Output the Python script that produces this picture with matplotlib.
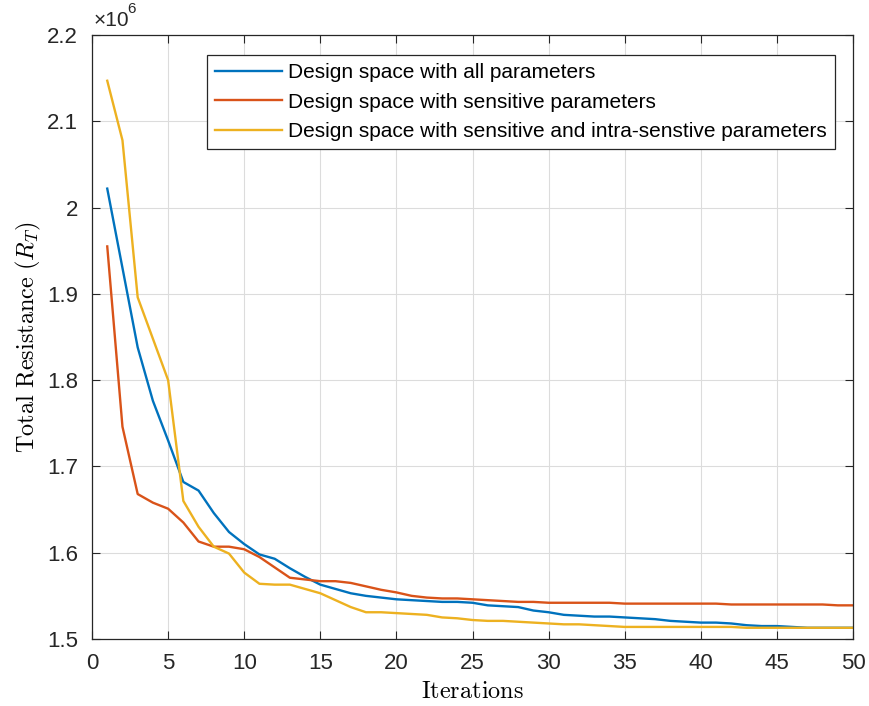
import matplotlib

matplotlib.use("Agg")
import matplotlib.pyplot as plt
import numpy as np

# Values, in units of 1e6
iterations = np.arange(1, 51)
all_params = [
    2.022, 1.930, 1.838, 1.776, 1.730, 1.682, 1.672, 1.646, 1.624, 1.610,
    1.598, 1.593, 1.582, 1.572, 1.563, 1.558, 1.553, 1.550, 1.548, 1.546,
    1.545, 1.544, 1.543, 1.543, 1.542, 1.539, 1.538, 1.537, 1.533, 1.531,
    1.528, 1.527, 1.526, 1.526, 1.525, 1.524, 1.523, 1.521, 1.520, 1.519,
    1.519, 1.518, 1.516, 1.515, 1.515, 1.514, 1.513, 1.513, 1.513, 1.513,
]
sensitive = [
    1.955, 1.746, 1.668, 1.658, 1.651, 1.635, 1.613, 1.607, 1.607, 1.604,
    1.595, 1.583, 1.571, 1.569, 1.567, 1.567, 1.565, 1.561, 1.557, 1.554,
    1.550, 1.548, 1.547, 1.547, 1.546, 1.545, 1.544, 1.543, 1.543, 1.542,
    1.542, 1.542, 1.542, 1.542, 1.541, 1.541, 1.541, 1.541, 1.541, 1.541,
    1.541, 1.540, 1.540, 1.540, 1.540, 1.540, 1.540, 1.540, 1.539, 1.539,
]
intra = [
    2.147, 2.078, 1.896, 1.848, 1.800, 1.660, 1.630, 1.607, 1.599, 1.577,
    1.564, 1.563, 1.563, 1.558, 1.553, 1.545, 1.537, 1.531, 1.531, 1.530,
    1.529, 1.528, 1.525, 1.524, 1.522, 1.521, 1.521, 1.520, 1.519, 1.518,
    1.517, 1.517, 1.516, 1.515, 1.514, 1.514, 1.514, 1.514, 1.514, 1.514,
    1.514, 1.514, 1.513, 1.513, 1.513, 1.513, 1.513, 1.513, 1.513, 1.513,
]
labels = [
    "Design space with all parameters",
    "Design space with sensitive parameters",
    "Design space with sensitive and intra-senstive parameters",
]
colors = ["#0072BD", "#D95319", "#EDB120"]

INK = "#262626"
plt.rcParams.update({
    "font.family": ["Liberation Sans", "DejaVu Sans"],
    "mathtext.fontset": "cm",
    "xtick.direction": "in", "ytick.direction": "in",
    "xtick.top": True, "ytick.right": True,
    "xtick.color": INK, "ytick.color": INK,
    "axes.edgecolor": INK,
})

fig = plt.figure(figsize=(8.69, 7.06), dpi=100)
ax = fig.add_axes([0.1059, 0.0949, 0.8757, 0.8555])

for series, lab, c in zip([all_params, sensitive, intra], labels, colors):
    ax.plot(iterations, series, color=c, lw=1.7, label=lab)

ax.set_xlim(0, 50)
ax.set_ylim(1.5, 2.2)
ax.set_xticks(np.arange(0, 51, 5))
ax.set_yticks(np.arange(1.5, 2.21, 0.1))
ax.yaxis.set_major_formatter(lambda v, _: f"{v:g}")
ax.tick_params(labelsize=16, length=6, width=0.8)
ax.tick_params(axis="x", pad=10)
ax.tick_params(axis="y", pad=10)
ax.grid(True, color="#dcdcdc", lw=0.8)
for s in ax.spines.values():
    s.set_linewidth(0.9)

# MATLAB-style exponent label above the y axis
ax.text(0.002, 1.008, "\u00d710", transform=ax.transAxes,
        fontsize=15, va="bottom", ha="left", color=INK)
ax.text(0.046, 1.032, "6", transform=ax.transAxes,
        fontsize=11, va="bottom", ha="left", color=INK)

ax.set_xlabel(r"$\mathrm{Iterations}$", fontsize=17.5, labelpad=5)
ax.set_ylabel(r"$\mathrm{Total\ Resistance\ (}R_T\mathrm{)}$", fontsize=17.5, labelpad=3)

leg = ax.legend(loc="upper right", bbox_to_anchor=(0.9765, 0.967), fontsize=15,
                frameon=True, fancybox=False, edgecolor=INK, framealpha=1,
                handlelength=3.2, borderpad=0.4, labelspacing=0.5,
                handletextpad=0.3, borderaxespad=0)
leg.get_frame().set_linewidth(0.9)

fig.savefig("out.png", dpi=100)
